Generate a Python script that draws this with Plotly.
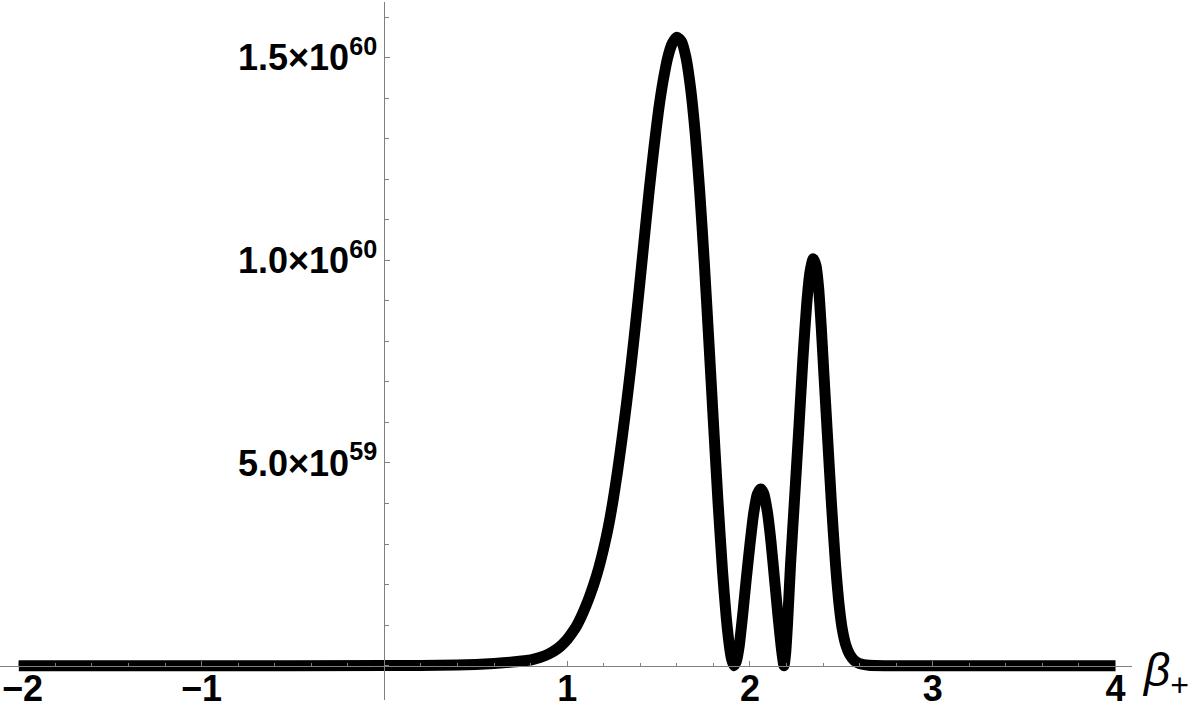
import plotly.graph_objects as go

# beta_+ values and curve height (in units of 1e60)
beta = [-2.0, -1.0, 0.0, 0.2, 0.4, 0.5, 0.6, 0.7, 0.8, 0.85, 0.9, 0.95, 0.975,
        1.0, 1.025, 1.05, 1.075, 1.1, 1.125, 1.15, 1.175, 1.2, 1.225, 1.25,
        1.275, 1.3, 1.325, 1.35, 1.375, 1.4, 1.425, 1.45, 1.475, 1.5, 1.525,
        1.55, 1.575, 1.6, 1.625, 1.65, 1.675, 1.7, 1.725, 1.75, 1.775, 1.8,
        1.825, 1.85, 1.87, 1.89, 1.9, 1.912,
        1.925, 1.94, 1.96, 1.98, 2.0, 2.02, 2.04, 2.058, 2.075, 2.095, 2.115,
        2.135, 2.155, 2.17, 2.18, 2.186,
        2.195, 2.205, 2.222, 2.245, 2.268, 2.29, 2.31, 2.328, 2.346, 2.362,
        2.376, 2.39, 2.405, 2.423, 2.445, 2.468, 2.49, 2.505, 2.525, 2.545,
        2.57, 2.6, 2.65, 2.75, 4.0]
height = [0.0, 0.0, 0.0002, 0.0006, 0.0018, 0.003, 0.0055, 0.009, 0.014, 0.020,
          0.029, 0.043, 0.053,
          0.065, 0.080, 0.097, 0.119, 0.145, 0.174, 0.207, 0.245, 0.290, 0.342,
          0.405, 0.478, 0.560, 0.648, 0.743, 0.846, 0.955, 1.068, 1.178, 1.279,
          1.370, 1.443, 1.500, 1.535, 1.550, 1.540, 1.500, 1.425, 1.315, 1.170,
          0.995, 0.800, 0.600, 0.405, 0.232, 0.120, 0.040, 0.015, 0.0,
          0.010, 0.045, 0.125, 0.215, 0.300, 0.375, 0.423, 0.436, 0.425, 0.380,
          0.305, 0.210, 0.115, 0.050, 0.015, 0.0,
          0.030, 0.100, 0.250, 0.420, 0.590, 0.760, 0.890, 0.970, 1.004, 0.985,
          0.930, 0.835, 0.715, 0.575, 0.405, 0.250, 0.140, 0.090, 0.050, 0.028,
          0.013, 0.005, 0.001, 0.0, 0.0]

x_ticks = [-2, -1, 1, 2, 3, 4]
x_labels = ["\u2009\u22122", "\u22121", "1", "2", "3", "4"]
y_ticks = [0.5e60, 1.0e60, 1.5e60]
y_labels = ["5.0\u00d710<sup>59</sup>", "1.0\u00d710<sup>60</sup>", "1.5\u00d710<sup>60</sup>"]

x_range = [-2.103, 4.09]
y_range = [-0.0846e60, 1.637e60]

axis_gray = "#808080"
tick_font = dict(family="Liberation Sans", size=36, color="black", weight="bold")

fig = go.Figure()
fig.add_trace(go.Scatter(
    x=beta, y=[h * 1e60 for h in height], mode="lines",
    line=dict(color="black", width=11, shape="spline", smoothing=0.6),
    hoverinfo="skip", showlegend=False))

fig.update_layout(
    width=1200, height=713,
    margin=dict(l=0, r=68, t=2, b=13),
    paper_bgcolor="white", plot_bgcolor="white",
    xaxis=dict(
        range=x_range, anchor="free",
        position=(0 - y_range[0]) / (y_range[1] - y_range[0]),
        showgrid=False, zeroline=False, showline=True,
        linecolor=axis_gray, linewidth=1, layer="above traces",
        tickmode="array", tickvals=x_ticks, ticktext=x_labels,
        ticks="inside", ticklen=5, tickcolor=axis_gray, tickwidth=1,
        minor=dict(ticks="inside", ticklen=3, dtick=0.2, tick0=0,
                   tickcolor=axis_gray, showgrid=False),
        tickfont=tick_font, ticklabelstandoff=-9, ticklabeloverflow="allow",
        automargin=False,
    ),
    yaxis=dict(
        range=y_range, anchor="free",
        position=(0 - x_range[0]) / (x_range[1] - x_range[0]),
        showgrid=False, zeroline=False, showline=True,
        linecolor=axis_gray, linewidth=1, layer="above traces",
        tickmode="array", tickvals=y_ticks, ticktext=y_labels,
        ticks="inside", ticklen=5, tickcolor=axis_gray, tickwidth=1,
        minor=dict(ticks="inside", ticklen=4, dtick=1e59, tick0=0,
                   tickcolor=axis_gray, showgrid=False),
        tickfont=tick_font, ticklabelstandoff=0, ticklabeloverflow="allow",
        automargin=False,
    ),
)

fig.add_annotation(
    x=x_range[1], y=0, xref="x", yref="y", xanchor="left", yanchor="middle",
    xshift=8, yshift=-8, showarrow=False,
    text="<i>\u03b2</i><sub>+</sub>",
    font=dict(family="Liberation Sans", size=46, color="black"))

# drop the browser's default body margin so the figure sits at the page corner
fig.write_html("out.html", config={"displayModeBar": False},
               post_script="document.body.style.margin='0';document.body.style.overflow='hidden';")
